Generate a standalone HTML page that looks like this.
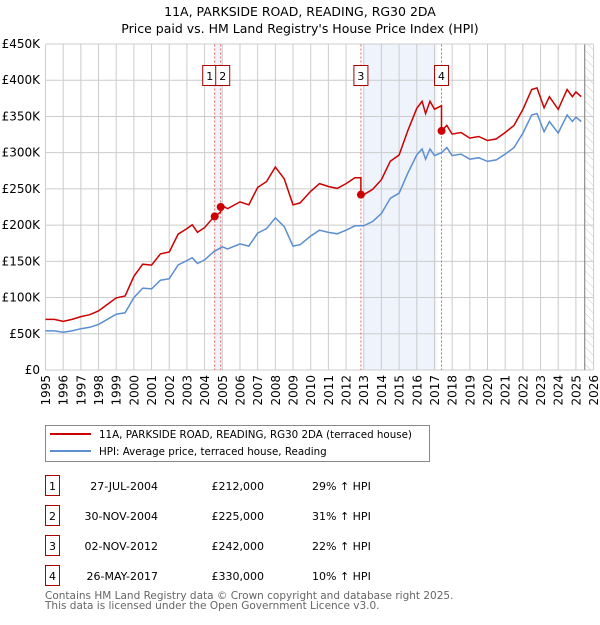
<!DOCTYPE html>
<html><head><meta charset="utf-8"><style>
body{margin:0;background:#fff;font-family:"Liberation Sans","DejaVu Sans",sans-serif;}
svg text{font-family:"DejaVu Sans","Liberation Sans",sans-serif;}
</style></head><body>
<svg id="c" width="600" height="620" viewBox="0 0 600 620" xmlns="http://www.w3.org/2000/svg">
<defs><pattern id="hatch" width="6" height="6" patternUnits="userSpaceOnUse" patternTransform="rotate(-45)"><line x1="0" y1="0" x2="0" y2="6" stroke="#ccc" stroke-width="1"/></pattern></defs>
<text x="300" y="16" text-anchor="middle" font-size="12.5">11A, PARKSIDE ROAD, READING, RG30 2DA</text>
<text x="300" y="33" text-anchor="middle" font-size="12.5">Price paid vs. HM Land Registry's House Price Index (HPI)</text>
<g id="plot"></g>
<g>
<rect x="45.5" y="425.5" width="384" height="36" fill="#fff" stroke="#888"/>
<line x1="50" y1="434" x2="91" y2="434" stroke="#cc0000" stroke-width="2"/>
<text x="99" y="438" font-size="10.3">11A, PARKSIDE ROAD, READING, RG30 2DA (terraced house)</text>
<line x1="50" y1="451" x2="91" y2="451" stroke="#5b8fd0" stroke-width="2"/>
<text x="99" y="455" font-size="10.3">HPI: Average price, terraced house, Reading</text>
</g>
<g id="table" font-size="11"></g>
<text x="45" y="599" font-size="10.5" fill="#666">Contains HM Land Registry data © Crown copyright and database right 2025.</text>
<text x="45" y="609" font-size="10.5" fill="#666">This data is licensed under the Open Government Licence v3.0.</text>
</svg>
<script>
const hpiDates=[1995,1995.5,1996,1996.5,1997,1997.5,1998,1998.5,1999,1999.5,2000,2000.5,2001,2001.5,2002,2002.5,2003,2003.3,2003.6,2004,2004.5,2005,2005.3,2006,2006.5,2007,2007.5,2008,2008.5,2009,2009.4,2010,2010.5,2011,2011.5,2012,2012.5,2013,2013.5,2014,2014.5,2015,2015.5,2016,2016.3,2016.5,2016.75,2017,2017.4,2017.7,2018,2018.5,2019,2019.5,2020,2020.5,2021,2021.5,2022,2022.5,2022.8,2023.2,2023.5,2024,2024.5,2024.8,2025,2025.3];
const hpiValues=[54,54,52,54,57,59,63,70,77,79,100,113,112,124,126,145,151,155,147,152,163,170,167,174,171,189,195,210,198,171,173,185,193,190,188,193,199,199,205,216,237,244,272,297,305,291,305,296,300,307,296,298,291,293,288,290,298,307,327,352,354,329,343,327,352,343,349,343];
const saleDates=[2004.57,2004.91,2012.84,2017.4];
const salePrices=[212,225,242,330];
const saleLabels=["1","2","3","4"];
const saleDateText=["27-JUL-2004","30-NOV-2004","02-NOV-2012","26-MAY-2017"];
const salePriceText=["£212,000","£225,000","£242,000","£330,000"];
const saleHpiText=["29% ↑ HPI","31% ↑ HPI","22% ↑ HPI","10% ↑ HPI"];
const yTicks=[0,50,100,150,200,250,300,350,400,450];
const xYears=[];for(let y=1995;y<=2026;y++)xYears.push(y);

const NS="http://www.w3.org/2000/svg";
const X0=45.5,PX=17.68,Y0=370,PY=326/450;
const xs=t=>X0+(t-1995)*PX;
const ys=v=>Y0-v*PY;
function mk(tag,attrs,parent){const e=document.createElementNS(NS,tag);for(const k in attrs)e.setAttribute(k,attrs[k]);parent.appendChild(e);return e;}
function hpiAt(t){for(let i=0;i<hpiDates.length-1;i++){if(t<=hpiDates[i+1]){const f=(t-hpiDates[i])/(hpiDates[i+1]-hpiDates[i]);return hpiValues[i]+f*(hpiValues[i+1]-hpiValues[i]);}}return hpiValues[hpiValues.length-1];}
const plot=document.getElementById('plot');
const sh1=mk('rect',{x:xs(saleDates[0]),y:44.5,width:xs(saleDates[1])-xs(saleDates[0]),height:325.5,fill:'#eef3fc'},plot);


const sh2=mk('rect',{x:xs(saleDates[2])+3,y:44.5,width:xs(saleDates[3])-xs(saleDates[2])-8,height:325.5,fill:'#eef3fc'},plot);


const hz=mk('rect',{x:xs(2025.5),y:44.5,width:xs(2026)-xs(2025.5),height:325.5,fill:'url(#hatch)'},plot);


yTicks.forEach(v=>{
 const l=mk('line',{x1:X0,x2:xs(2026),y1:ys(v),y2:ys(v),stroke:'#ccc','stroke-width':1},plot);
 
 
 const t=mk('text',{x:40,y:ys(v)+4,'text-anchor':'end','font-size':12},plot);t.textContent='£'+(v?v+'K':'0');
 
 
});
xYears.forEach(y=>{
 const l=mk('line',{x1:xs(y),x2:xs(y),y1:44.5,y2:370,stroke:'#ccc','stroke-width':1},plot);
 
 
 const t=mk('text',{x:0,y:0,'text-anchor':'end','font-size':12,transform:`translate(${xs(y)+4.5},375) rotate(-90)`},plot);t.textContent=y;
 
 
});
const dl=mk('line',{x1:xs(2025.5),x2:xs(2025.5),y1:44.5,y2:370,stroke:'#777','stroke-width':1},plot);


saleDates.forEach((d,i)=>{
 const l=mk('line',{x1:xs(d),x2:xs(d),y1:44.5,y2:370,stroke:'#e06666','stroke-width':1,'stroke-dasharray':'2,2'},plot);
 
 
});
const hp=mk('path',{d:hpiDates.map((t,i)=>(i?'L':'M')+xs(t).toFixed(1)+','+ys(hpiValues[i]).toFixed(1)).join(''),fill:'none',stroke:'#5b8fd0','stroke-width':1.5},plot);


function propAt(t){let k=0;for(let i=0;i<saleDates.length;i++)if(t>=saleDates[i])k=i;return salePrices[k]*hpiAt(t)/hpiAt(saleDates[k]);}
const pts=[];
hpiDates.forEach(t=>pts.push(t));
saleDates.forEach(t=>{pts.push(t-0.001);pts.push(t);});
pts.sort((a,b)=>a-b);
const pp=mk('path',{d:pts.map((t,i)=>(i?'L':'M')+xs(t).toFixed(1)+','+ys(propAt(t)).toFixed(1)).join(''),fill:'none',stroke:'#cc0000','stroke-width':1.5},plot);


saleDates.forEach((d,i)=>{
 const c=mk('circle',{cx:xs(d),cy:ys(salePrices[i]),r:4,fill:'#cc0000'},plot);
 
 
 const off=(i===0)?-5:(i===1?2:0);
 const r=mk('rect',{x:xs(d)+off-7,y:65.5,width:14,height:20,fill:'#fff',stroke:'#aa0000'},plot);
 
 
 const t=mk('text',{x:xs(d)+off,y:80,'text-anchor':'middle','font-size':11},plot);t.textContent=saleLabels[i];
 
 
});
const tb=document.getElementById('table');
saleDates.forEach((d,i)=>{
 const y=476+i*30;
 const r=mk('rect',{x:45.5,y:y-0.5,width:14,height:20,fill:'#fff',stroke:'#aa0000'},tb);
 
 
 const a=mk('text',{x:52.5,y:y+14,'text-anchor':'middle'},tb);a.textContent=saleLabels[i];
 
 
 const b=mk('text',{x:158,y:y+14,'text-anchor':'end'},tb);b.textContent=saleDateText[i];
 
 
 const c=mk('text',{x:264,y:y+14,'text-anchor':'end'},tb);c.textContent=salePriceText[i];
 
 
 const e=mk('text',{x:312,y:y+14},tb);e.textContent=saleHpiText[i];
 
 
});
</script>
</body></html>
